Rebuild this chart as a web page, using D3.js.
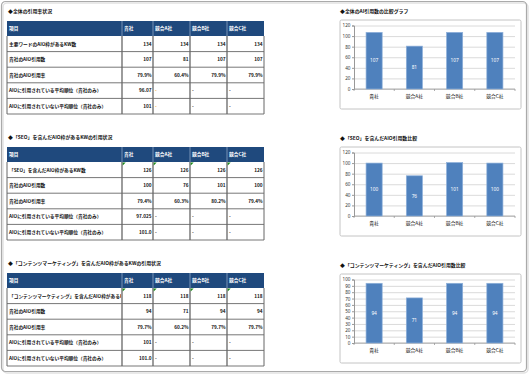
<!DOCTYPE html>
<html>
<head>
<meta charset="utf-8">
<script src="https://cdn.jsdelivr.net/npm/d3@7"></script>
<style>
  body { margin: 0; background: #fff; }
  svg { display: block; font-family: "Noto Sans CJK JP", "Noto Sans", sans-serif; }
</style>
</head>
<body>
<div id="sheet"></div>
<script>
// companies (table columns + chart categories)
const companies = ['貴社', '競合A社', '競合B社', '競合C社'];

// table 1: 全体
const allTitle = '◆全体の引用率状況';
const allLabels = ['主要ワードのAIO枠があるKW数', '貴社のAIO引用数', '貴社のAIO引用率', 'AIOに引用されている平均順位（貴社のみ）', 'AIOに引用されていない平均順位（貴社のみ）'];
const allKw = ['134', '134', '134', '134'];
const allCited = [107, 81, 107, 107];
const allRate = ['79.9%', '60.4%', '79.9%', '79.9%'];
const allAvgIn = ['96.07', '-', '-', '-'];
const allAvgOut = ['101', '-', '-', '-'];

// table 2: SEO
const seoTitle = '◆「SEO」を含んだAIO枠があるKWの引用状況';
const seoLabels = ['「SEO」を含んだAIO枠があるKW数', '貴社のAIO引用数', '貴社のAIO引用率', 'AIOに引用されている平均順位（貴社のみ）', 'AIOに引用されていない平均順位（貴社のみ）'];
const seoKw = ['126', '126', '126', '126'];
const seoCited = [100, 76, 101, 100];
const seoRate = ['79.4%', '60.3%', '80.2%', '79.4%'];
const seoAvgIn = ['97.025', '-', '-', '-'];
const seoAvgOut = ['101.0', '-', '-', '-'];

// table 3: コンテンツマーケティング
const cmTitle = '◆「コンテンツマーケティング」を含んだAIO枠があるKWの引用状況';
const cmLabels = ['「コンテンツマーケティング」を含んだAIO枠があるKW数', '貴社のAIO引用数', '貴社のAIO引用率', 'AIOに引用されている平均順位（貴社のみ）', 'AIOに引用されていない平均順位（貴社のみ）'];
const cmKw = ['118', '118', '118', '118'];
const cmCited = [94, 71, 94, 94];
const cmRate = ['79.7%', '60.2%', '79.7%', '79.7%'];
const cmAvgIn = ['101', '-', '-', '-'];
const cmAvgOut = ['101.0', '-', '-', '-'];

// chart titles
const chartTitles = ['◆全体のAI引用数の比較グラフ', '◆「SEO」を含んだAIO引用数比較', '◆「コンテンツマーケティング」を含んだAIO引用数比較'];

const W = 530, H = 375;
const svg = d3.select('#sheet').append('svg')
  .attr('width', W)
  .attr('height', H);

svg.append('rect').attr('width', W).attr('height', H).attr('fill', '#fff');

// outer frame (with a faint shadow)
svg.append('rect')
  .attr('x', 3).attr('y', 3).attr('width', W - 5).attr('height', H - 5)
  .attr('rx', 4)
  .attr('fill', 'none')
  .attr('stroke', '#e2e2e2')
  .attr('stroke-width', 1.5);
svg.append('rect')
  .attr('x', 1.5).attr('y', 1.5).attr('width', W - 5).attr('height', H - 5)
  .attr('rx', 4)
  .attr('fill', 'none')
  .attr('stroke', '#aaa')
  .attr('stroke-width', 1.2);

// table columns (left edges + right edge)
const colEdges = [7, 122, 153, 190, 227, 264];
const headerH = 15, rowH = 15.6;
const navy = '#1f497d';
const fs = 4.7;

function drawTable(top, title, labels, rows, opts) {
  const g = svg.append('g');
  g.append('text')
    .attr('x', 8).attr('y', top - 8.5)
    .attr('font-size', 4.9)
    .attr('font-weight', 'bold')
    .attr('fill', '#111')
    .text(title);

  // header
  g.append('rect')
    .attr('x', colEdges[0]).attr('y', top)
    .attr('width', colEdges[5] - colEdges[0]).attr('height', headerH)
    .attr('fill', navy);
  ['項目'].concat(companies).forEach((h, i) => {
    g.append('text')
      .attr('x', colEdges[i] + 2).attr('y', top + headerH / 2 + 1.7)
      .attr('font-size', fs)
      .attr('font-weight', 'bold')
      .attr('fill', '#fff')
      .text(h);
  });
  for (let i = 1; i < 5; i++) {
    g.append('line')
      .attr('x1', colEdges[i]).attr('x2', colEdges[i])
      .attr('y1', top).attr('y2', top + headerH)
      .attr('stroke', '#8ea4c4').attr('stroke-width', 0.8);
  }

  const y = d3.scaleBand()
    .domain(d3.range(rows.length))
    .range([top + headerH, top + headerH + rowH * rows.length]);

  const clipId = 'clip' + Math.round(top);
  g.append('clipPath').attr('id', clipId)
    .append('rect')
    .attr('x', colEdges[0]).attr('y', top)
    .attr('width', colEdges[1] - colEdges[0] - 1)
    .attr('height', headerH + rowH * rows.length);

  rows.forEach((vals, r) => {
    const yy = y(r);
    g.append('text')
      .attr('x', colEdges[0] + 2).attr('y', yy + rowH / 2 + 1.7)
      .attr('font-size', fs)
      .attr('font-weight', 'bold')
      .attr('fill', '#111')
      .attr('clip-path', 'url(#' + clipId + ')')
      .text(labels[r]);
    vals.forEach((v, c) => {
      const dash = v === '-';
      g.append('text')
        .attr('x', dash ? colEdges[c + 1] + 2 : colEdges[c + 2] - 1.5)
        .attr('y', yy + rowH / 2 + 1.7)
        .attr('text-anchor', dash ? 'start' : 'end')
        .attr('font-size', fs)
        .attr('font-weight', 'bold')
        .attr('fill', (dash && c === 1 && opts.orangeDash) ? '#f0a000' : '#111')
        .text(v);
    });
    // horizontal line under row
    g.append('line')
      .attr('x1', colEdges[0]).attr('x2', colEdges[5])
      .attr('y1', yy + rowH).attr('y2', yy + rowH)
      .attr('stroke', '#777').attr('stroke-width', 1);
  });

  const bottom = top + headerH + rowH * rows.length;
  colEdges.forEach((x, i) => {
    g.append('line')
      .attr('x1', x).attr('x2', x)
      .attr('y1', top + headerH).attr('y2', bottom)
      .attr('stroke', '#666').attr('stroke-width', i === 0 || i === 5 ? 1 : 1.3);
  });

  // green comment markers
  if (opts.greenMarks) {
    for (let i = 1; i < 5; i++) {
      const x0 = colEdges[i] + 0.7, y0 = top + headerH + 0.5;
      g.append('path')
        .attr('d', `M${x0},${y0}h3l-3,3z`)
        .attr('fill', '#1a8a1a');
    }
  }
}

drawTable(21, allTitle, allLabels,
  [allKw, allCited.map(String), allRate, allAvgIn, allAvgOut], { orangeDash: true });
drawTable(147, seoTitle, seoLabels,
  [seoKw, seoCited.map(String), seoRate, seoAvgIn, seoAvgOut], { greenMarks: true });
drawTable(273, cmTitle, cmLabels,
  [cmKw, cmCited.map(String), cmRate, cmAvgIn, cmAvgOut], { greenMarks: true });

// bar charts
const boxX = 340, boxW = 181;
const plotL = 354, plotR = 515;

function drawChart(top, title, values, maxY, step) {
  const g = svg.append('g');
  g.append('text')
    .attr('x', boxX).attr('y', top - 7.5)
    .attr('font-size', 4.9)
    .attr('font-weight', 'bold')
    .attr('fill', '#111')
    .text(title);

  g.append('rect')
    .attr('x', boxX).attr('y', top)
    .attr('width', boxW).attr('height', 89)
    .attr('rx', 1.5)
    .attr('fill', '#fff')
    .attr('stroke', '#c4c4c4').attr('stroke-width', 1);

  const x = d3.scaleBand()
    .domain(companies)
    .range([plotL, plotR])
    .paddingInner(0.6).paddingOuter(0.3);
  const y = d3.scaleLinear()
    .domain([0, maxY])
    .range([top + 69, top + 5.5]);
  const ticks = d3.range(0, maxY + step / 2, step);

  // gridlines
  g.append('g')
    .attr('transform', `translate(${plotL},0)`)
    .call(d3.axisLeft(y).tickValues(ticks).tickSize(-(plotR - plotL)).tickFormat(''))
    .call(a => a.select('.domain').remove())
    .call(a => a.selectAll('line').attr('stroke', '#d0d0d0').attr('stroke-width', 0.8));

  // y axis
  g.append('g')
    .attr('transform', `translate(${plotL},0)`)
    .call(d3.axisLeft(y).tickValues(ticks).tickSize(2).tickPadding(1.5))
    .call(a => a.select('.domain').attr('stroke', '#999'))
    .call(a => a.selectAll('line').attr('stroke', '#999'))
    .call(a => a.selectAll('text')
      .attr('font-size', 4.6)
      .attr('fill', '#333')
      .attr('font-family', '"Noto Sans", sans-serif'));

  // x axis with ticks at category boundaries
  const bounds = d3.range(companies.length + 1).map(i => plotL + i * (plotR - plotL) / companies.length);
  g.append('line')
    .attr('x1', plotL).attr('x2', plotR)
    .attr('y1', y(0)).attr('y2', y(0))
    .attr('stroke', '#999').attr('stroke-width', 0.8);
  g.selectAll('.xt').data(bounds).enter().append('line')
    .attr('x1', d => d).attr('x2', d => d)
    .attr('y1', y(0)).attr('y2', y(0) + 2)
    .attr('stroke', '#999').attr('stroke-width', 0.8);
  g.selectAll('.xl').data(companies).enter().append('text')
    .attr('x', d => x(d) + x.bandwidth() / 2)
    .attr('y', y(0) + 9)
    .attr('text-anchor', 'middle')
    .attr('font-size', 4.8)
    .attr('fill', '#111')
    .text(d => d);

  // bars
  g.selectAll('.bar').data(values).enter().append('rect')
    .attr('x', (d, i) => x(companies[i]))
    .attr('y', d => y(d))
    .attr('width', x.bandwidth())
    .attr('height', d => y(0) - y(d))
    .attr('fill', '#4f81bd')
    .attr('stroke', '#8eb0da').attr('stroke-width', 0.7);

  g.selectAll('.val').data(values).enter().append('text')
    .attr('x', (d, i) => x(companies[i]) + x.bandwidth() / 2)
    .attr('y', d => (y(d) + y(0)) / 2 + 1.7)
    .attr('text-anchor', 'middle')
    .attr('font-size', 4.8)
    .attr('fill', '#fff')
    .attr('font-family', '"Noto Sans", sans-serif')
    .text(d => d);
}

drawChart(20, chartTitles[0], allCited, 120, 20);
drawChart(147, chartTitles[1], seoCited, 120, 20);
drawChart(274, chartTitles[2], cmCited, 100, 10);
</script>
</body>
</html>
